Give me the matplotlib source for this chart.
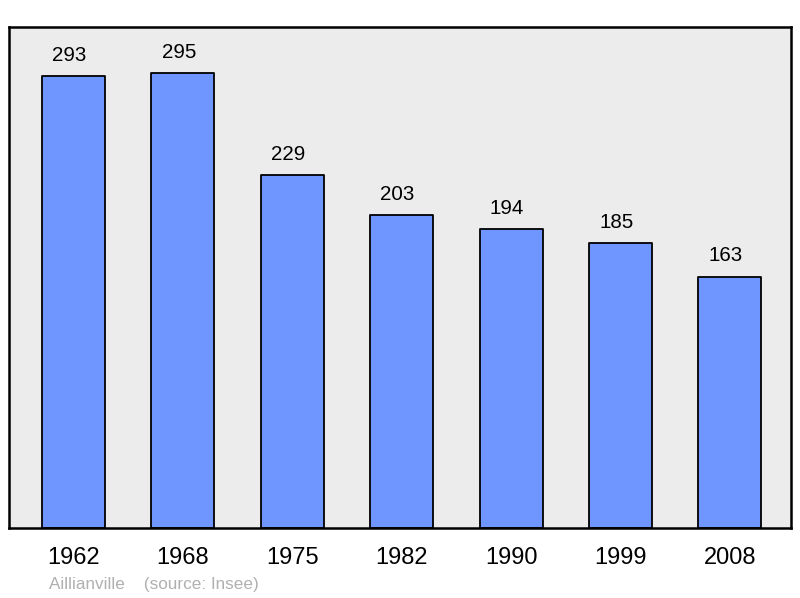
import matplotlib
matplotlib.use("Agg")
import matplotlib.pyplot as plt

years = ["1962", "1968", "1975", "1982", "1990", "1999", "2008"]
population = [293, 295, 229, 203, 194, 185, 163]

plt.rcParams['font.family'] = ['Liberation Sans', 'DejaVu Sans']

fig = plt.figure(figsize=(8, 5.98), dpi=100)
W, H = 800, 598
ax = fig.add_axes([9 / W, 1 - 528 / H, 782 / W, 501 / H])
ax.set_facecolor('#ececec')

x = list(range(len(years)))
bars = ax.bar(x, population, width=0.576, color='#6f96ff', edgecolor='black',
              linewidth=1.3, zorder=2)
for b in bars:
    b.set_joinstyle('round')

for xi, v in zip(x, population):
    ax.annotate(str(v), (xi, v), xytext=(-3, 11), textcoords='offset points',
                ha='center', va='baseline', fontsize=14.8, color='black')

ax.set_xlim(-0.59, 6.56)
ax.set_ylim(0, 325)
ax.set_yticks([])
ax.set_xticks(x)
ax.set_xticklabels(years, fontsize=17)
for lbl in ax.get_xticklabels():
    lbl.set_x(lbl.get_position()[0])
ax.tick_params(axis='x', length=0, pad=14)
for s in ax.spines.values():
    s.set_linewidth(1.8)
    s.set_joinstyle('round')

fig.text(49 / W, 1 - 584 / H, "Aillianville    (source: Insee)", fontsize=12.3,
         color='#b0b0b0', ha='left', va='center')

fig.savefig("out.png", dpi=100)
